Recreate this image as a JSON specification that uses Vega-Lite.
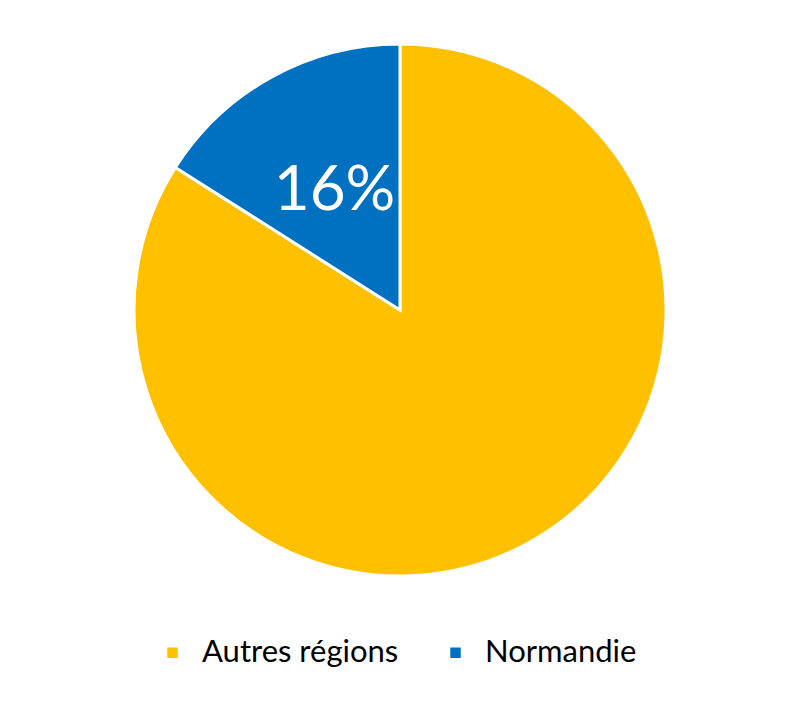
{
  "$schema": "https://vega.github.io/schema/vega-lite/v6.json",
  "width": 800,
  "height": 620,
  "padding": 0,
  "autosize": {"type": "pad"},
  "background": "white",
  "config": {"view": {"stroke": null}},
  "data": {"values": [
    {"region": "Autres régions", "share": 84, "ord": 1, "label": ""},
    {"region": "Normandie", "share": 16, "ord": 2, "label": "16%"}
  ]},
  "encoding": {
    "theta": {"field": "share", "type": "quantitative", "stack": true},
    "order": {"field": "ord", "type": "quantitative"}
  },
  "layer": [
    {
      "mark": {"type": "arc", "radius": 266, "stroke": "white", "strokeWidth": 3},
      "encoding": {
        "color": {
          "field": "region", "type": "nominal",
          "scale": {"domain": ["Autres régions", "Normandie"], "range": ["#FFC000", "#0070C0"]},
          "legend": {
            "title": null, "orient": "none", "direction": "horizontal",
            "legendX": 157, "legendY": 637,
            "symbolType": "square", "symbolSize": 110, "symbolStrokeWidth": 0,
            "labelFont": "Lato", "labelFontSize": 31, "labelColor": "#000000",
            "labelOffset": 14, "columnPadding": 41, "symbolOpacity": 1, "labelLimit": 400
          }
        }
      }
    },
    {
      "mark": {"type": "text", "radius": 136, "font": "Lato", "fontSize": 62, "color": "white", "align": "center", "baseline": "middle"},
      "encoding": {"text": {"field": "label"}}
    }
  ]
}
